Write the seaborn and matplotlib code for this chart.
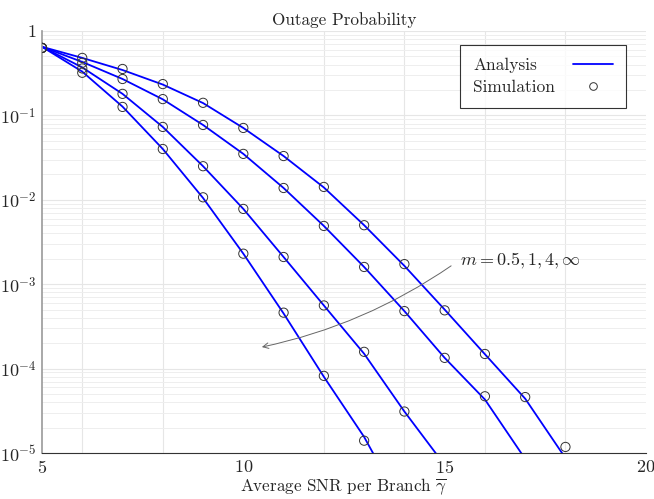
import numpy as np
import pandas as pd
import matplotlib
matplotlib.use("Agg")
import matplotlib.pyplot as plt
import matplotlib.ticker as mticker
from matplotlib.lines import Line2D
import seaborn as sns

# ---------------- data ----------------
m_labels = ["0.5", "1", "4", "inf"]

snr_sim_05 = [5, 6, 7, 8, 9, 10, 11, 12, 13, 14, 15, 16, 17, 18]
sim_05 = [0.63, 0.48, 0.355, 0.235, 0.141, 0.071, 0.033, 0.0142, 0.0050,
          0.00173, 0.00049, 0.000149, 4.6e-5, 1.18e-5]
snr_sim_1 = [5, 6, 7, 8, 9, 10, 11, 12, 13, 14, 15, 16]
sim_1 = [0.63, 0.42, 0.27, 0.156, 0.077, 0.035, 0.0138, 0.0049, 0.0016,
         0.00048, 0.000134, 4.7e-5]
snr_sim_4 = [5, 6, 7, 8, 9, 10, 11, 12, 13, 14]
sim_4 = [0.63, 0.36, 0.18, 0.073, 0.025, 0.0078, 0.0021, 0.00056, 0.000158, 3.1e-5]
snr_sim_inf = [5, 6, 7, 8, 9, 10, 11, 12, 13]
sim_inf = [0.63, 0.32, 0.126, 0.040, 0.0107, 0.0023, 0.00046, 8.2e-5, 1.4e-5]

snr_ana_05 = [5, 6, 7, 8, 9, 10, 11, 12, 13, 14, 15, 16, 17, 18]
ana_05 = [0.65, 0.48, 0.345, 0.232, 0.140, 0.071, 0.033, 0.0140, 0.0050,
          0.00165, 0.00050, 0.000148, 4.4e-5, 8.7e-6]
snr_ana_1 = [5, 6, 7, 8, 9, 10, 11, 12, 13, 14, 15, 16, 17]
ana_1 = [0.65, 0.43, 0.27, 0.155, 0.077, 0.035, 0.0138, 0.0049, 0.0016,
         0.00048, 0.000134, 4.3e-5, 8.5e-6]
snr_ana_4 = [5, 6, 7, 8, 9, 10, 11, 12, 13, 14, 15]
ana_4 = [0.65, 0.37, 0.18, 0.073, 0.025, 0.0078, 0.0021, 0.00056, 0.000150,
         3.1e-5, 7.2e-6]
snr_ana_inf = [5, 6, 7, 8, 9, 10, 11, 12, 13, 14]
ana_inf = [0.65, 0.33, 0.127, 0.040, 0.0105, 0.0023, 0.00045, 8.0e-5, 1.55e-5, 2.1e-6]

x_ticks = [5, 10, 15, 20]
x_grid = [6, 8, 10, 12, 14, 16, 18, 20]
title = "Outage Probability"
xlabel = r"Average SNR per Branch $\overline{\gamma}$"
annot_text = r"$m = 0.5, 1, 4, \infty$"

# ---------------- tables ----------------
sim_df = pd.concat([
    pd.DataFrame({"snr": snr_sim_05, "p": sim_05, "m": m_labels[0]}),
    pd.DataFrame({"snr": snr_sim_1, "p": sim_1, "m": m_labels[1]}),
    pd.DataFrame({"snr": snr_sim_4, "p": sim_4, "m": m_labels[2]}),
    pd.DataFrame({"snr": snr_sim_inf, "p": sim_inf, "m": m_labels[3]}),
], ignore_index=True)
ana_df = pd.concat([
    pd.DataFrame({"snr": snr_ana_05, "p": ana_05, "m": m_labels[0]}),
    pd.DataFrame({"snr": snr_ana_1, "p": ana_1, "m": m_labels[1]}),
    pd.DataFrame({"snr": snr_ana_4, "p": ana_4, "m": m_labels[2]}),
    pd.DataFrame({"snr": snr_ana_inf, "p": ana_inf, "m": m_labels[3]}),
], ignore_index=True)

# ---------------- style ----------------
sns.set_style("white")
plt.rcParams["font.family"] = ["cmr10", "DejaVu Serif"]
plt.rcParams["mathtext.fontset"] = "cm"
plt.rcParams["axes.unicode_minus"] = False
plt.rcParams["axes.formatter.use_mathtext"] = True

fig = plt.figure(figsize=(6.54, 4.99), dpi=100)
ax = fig.add_axes([42 / 654, 1 - 453 / 499, 604 / 654, 422 / 499])

sns.lineplot(data=ana_df, x="snr", y="p", units="m", estimator=None,
             color="#0000ff", linewidth=1.3, ax=ax, legend=False, sort=False)
sns.scatterplot(data=sim_df, x="snr", y="p", marker="o", s=44,
                facecolor="none", edgecolor="#333333", linewidth=0.7,
                ax=ax, legend=False, zorder=3)

ax.set_yscale("log")
ax.set_xlim(5, 20)
ax.set_ylim(1e-5, 1)

# grids
ax.xaxis.set_major_locator(mticker.FixedLocator(x_ticks))
ax.xaxis.set_minor_locator(mticker.FixedLocator(x_grid))
ax.yaxis.set_major_locator(mticker.LogLocator(base=10, numticks=10))
ax.yaxis.set_minor_locator(mticker.LogLocator(base=10, subs=np.arange(2, 10), numticks=20))
ax.yaxis.set_minor_formatter(mticker.NullFormatter())


def yfmt(v, pos):
    e = int(round(np.log10(v)))
    if e == 0:
        return "1"
    return r"$10^{%d}$" % e


ax.yaxis.set_major_formatter(mticker.FuncFormatter(yfmt))
ax.grid(True, which="major", axis="y", color="#e6e6e6", linewidth=0.8)
ax.grid(True, which="minor", axis="y", color="#eeeeee", linewidth=0.7)
ax.grid(True, which="minor", axis="x", color="#e6e6e6", linewidth=0.8)
ax.grid(False, which="major", axis="x")
ax.set_axisbelow(True)

ax.tick_params(axis="both", which="major", direction="in", length=4,
               width=0.6, color="#444444", labelsize=13, pad=4)
ax.tick_params(axis="x", which="minor", length=0)
ax.tick_params(axis="y", which="minor", length=0)

for s in ["top", "right"]:
    ax.spines[s].set_visible(False)
ax.spines["left"].set_color("#999999")
ax.spines["left"].set_linewidth(1.2)
ax.spines["bottom"].set_color("#333333")
ax.spines["bottom"].set_linewidth(0.8)

ax.set_title(title, fontsize=12.3, pad=4)
ax.set_xlabel(xlabel, fontsize=12.3, labelpad=1)
ax.set_ylabel("")

# annotation
ax.annotate("", xy=(10.46, 1.8e-4), xytext=(15.16, 1.65e-3),
            arrowprops=dict(arrowstyle="->", color="#666666", lw=0.7,
                            connectionstyle="arc3,rad=-0.1", shrinkA=0, shrinkB=0))
ax.text(15.38, 1.9e-3, annot_text, fontsize=13, va="center", ha="left")

# legend
handles = [Line2D([], [], color="#0000ff", lw=1.3),
           Line2D([], [], ls="none", marker="o", markersize=5.5,
                  markerfacecolor="none", markeredgecolor="#333333", markeredgewidth=0.7)]
base_sep = 1.05
leg_fs = 12.5
leg = ax.legend(handles, ["Analysis", "Simulation"], loc="upper right",
                bbox_to_anchor=((626 - 42) / 604, 1 - 14 / 422), borderaxespad=0,
                markerfirst=False, fontsize=leg_fs, frameon=True, fancybox=False,
                edgecolor="black", handlelength=2.3, borderpad=0.75,
                labelspacing=0.35, handletextpad=base_sep)
leg.get_frame().set_linewidth(0.8)

# left-align the legend labels while keeping the handles aligned on the right
renderer = fig.canvas.get_renderer()
col = leg._legend_handle_box.get_children()[0]
col.align = "left"
items = col.get_children()
widths = [it.get_children()[0].get_bbox(renderer).width for it in items]
maxw = max(widths)
ptpx = renderer.points_to_pixels(1.0)
for it, w in zip(items, widths):
    it.sep = base_sep * leg_fs + (maxw - w) / ptpx

fig.savefig("out.png", dpi=100)
